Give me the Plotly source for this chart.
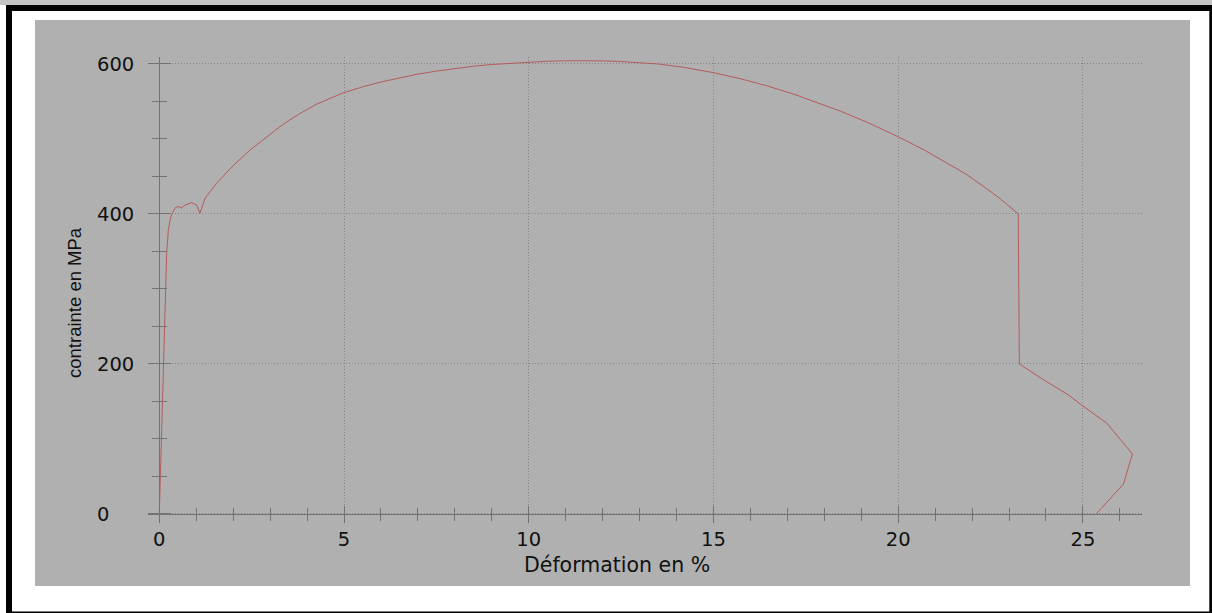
import plotly.graph_objects as go

# ---- data ----
strain = [0, 0.05, 0.11, 0.155, 0.2, 0.245, 0.31, 0.425, 0.51, 0.6, 0.7, 0.88, 1.01, 1.1,
          1.19, 1.24, 1.55, 2.0, 2.45, 2.91, 3.36, 3.81, 4.26, 4.98, 5.5, 6.0, 6.5, 7.0,
          7.5, 8.0, 8.5, 9.0, 9.5, 10.0, 10.5, 11.0, 11.5, 12.0, 12.5, 13.0, 13.5,
          14.19, 15.0, 15.72, 16.44, 17.16, 17.8, 18.47, 19.15, 20.0, 20.68, 21.4, 21.86,
          22.3, 22.76, 23.25, 23.28, 23.93, 24.6, 24.97, 25.65, 26.34, 26.1, 25.36]
stress = [0, 90, 214, 299, 348, 379, 396, 408, 410, 408, 412, 415, 412, 401,
          416, 421, 441, 464.5, 485, 503, 520, 534, 546.5, 561.5, 569.5, 576, 581.5, 586.5,
          590.5, 594, 597, 599.3, 601, 602.5, 603.6, 604.2, 604.4, 604.1, 603.3, 602, 600,
          595.6, 588.4, 580.5, 571, 560, 549, 536.5, 522.5, 503, 486, 466, 452.5,
          437, 420.5, 400, 200, 179, 159, 145, 121, 80, 40, 0]
x_ticks = [0, 5, 10, 15, 20, 25]
y_ticks = [0, 200, 400, 600]
x_title = "Déformation en %"
y_title = "contrainte en MPa"

W, H = 1212, 613
L, R, T, B = 35, 1190, 20, 586          # gray panel in pixels
PW, PH = R - L, B - T


def px(xp):
    return (xp - L) / PW


def py(yp):
    return (B - yp) / PH


AX = "#737373"
GRID = "#858585"
BG = "#b0b0b0"
x_range = [-0.306, 26.6]
y_range = [-10.7, 609.3]
xdom = [px(148), px(1142)]
ydom = [py(522), py(57)]

fig = go.Figure()
fig.add_trace(go.Scatter(x=strain, y=stress, mode="lines",
                         line=dict(color="#b35c5c", width=1), showlegend=False))
# empty helper traces so that overlay axes get drawn
fig.add_trace(go.Scatter(x=[], y=[], xaxis="x2", yaxis="y2", showlegend=False))
fig.add_trace(go.Scatter(x=[], y=[], xaxis="x", yaxis="y3", showlegend=False))

tickfont = dict(family="DejaVu Sans", size=19.5, color="#111111")

fig.update_layout(
    width=W, height=H, autosize=False,
    margin=dict(l=L, r=W - R, t=T, b=H - B, pad=0),
    paper_bgcolor="white", plot_bgcolor=BG,
    showlegend=False,
    xaxis=dict(domain=xdom, range=x_range, anchor="free", position=py(514),
               tickvals=x_ticks, ticks="outside", ticklen=8, tickcolor=AX, tickwidth=1,
               minor=dict(dtick=1, tick0=0, ticks="outside", ticklen=6, tickcolor=AX, showgrid=False),
               showgrid=True, gridcolor=GRID, griddash="1px,2px", gridwidth=1,
               showline=True, linecolor=AX, linewidth=1, zeroline=False,
               tickfont=tickfont, ticklabelstandoff=0),
    xaxis2=dict(domain=xdom, range=x_range, anchor="free", position=py(514), overlaying="x",
                tickvals=x_ticks, ticks="inside", ticklen=8, tickcolor=AX,
                minor=dict(dtick=1, tick0=0, ticks="inside", ticklen=6, tickcolor=AX, showgrid=False),
                showgrid=False, showline=False, zeroline=False, showticklabels=False),
    yaxis=dict(domain=ydom, range=y_range, anchor="free", position=px(159.3),
               tickvals=y_ticks, ticks="outside", ticklen=11, tickcolor=AX,
               minor=dict(dtick=50, tick0=0, ticks="outside", ticklen=7, tickcolor=AX, showgrid=False),
               showgrid=True, gridcolor=GRID, griddash="1px,2px", gridwidth=1,
               showline=True, linecolor=AX, linewidth=1, zeroline=False,
               showticklabels=False),
    yaxis2=dict(domain=ydom, range=y_range, anchor="free", position=px(159.3), overlaying="y",
                tickvals=y_ticks, ticks="inside", ticklen=11, tickcolor=AX,
                minor=dict(dtick=50, tick0=0, ticks="inside", ticklen=7, tickcolor=AX, showgrid=False),
                showgrid=False, showline=False, zeroline=False, showticklabels=False),
    yaxis3=dict(domain=ydom, range=y_range, anchor="free", position=px(96), overlaying="y",
                side="right", tickvals=y_ticks, ticks="", showgrid=False, showline=False,
                zeroline=False, showticklabels=True, tickfont=tickfont, ticklabelstandoff=0),
    annotations=[
        dict(text=x_title, xref="paper", yref="paper", x=px(617), y=py(565),
             xanchor="center", yanchor="middle", showarrow=False,
             font=dict(family="DejaVu Sans", size=20.5, color="#111111")),
        dict(text=y_title, xref="paper", yref="paper", x=px(74), y=py(303),
             xanchor="center", yanchor="middle", showarrow=False, textangle=-90,
             font=dict(family="Liberation Sans", size=18.5, color="#111111")),
    ],
    shapes=[
        dict(type="rect", xref="paper", yref="paper", x0=0, x1=1, y0=0, y1=1,
             fillcolor=BG, line=dict(width=0), layer="below"),
        dict(type="rect", xref="paper", yref="paper", x0=px(0), x1=px(W), y0=py(0), y1=py(5),
             fillcolor="#c4c4c4", line=dict(width=0), layer="below"),
        dict(type="rect", xref="paper", yref="paper", x0=px(9), x1=px(1212.3), y0=py(8), y1=py(614.5),
             fillcolor="rgba(0,0,0,0)", line=dict(color="black", width=6), layer="above"),
    ],
)

fig.write_html("out.html", config={"displayModeBar": False},
               post_script="document.body.style.margin='0px';document.body.style.overflow='hidden';")
